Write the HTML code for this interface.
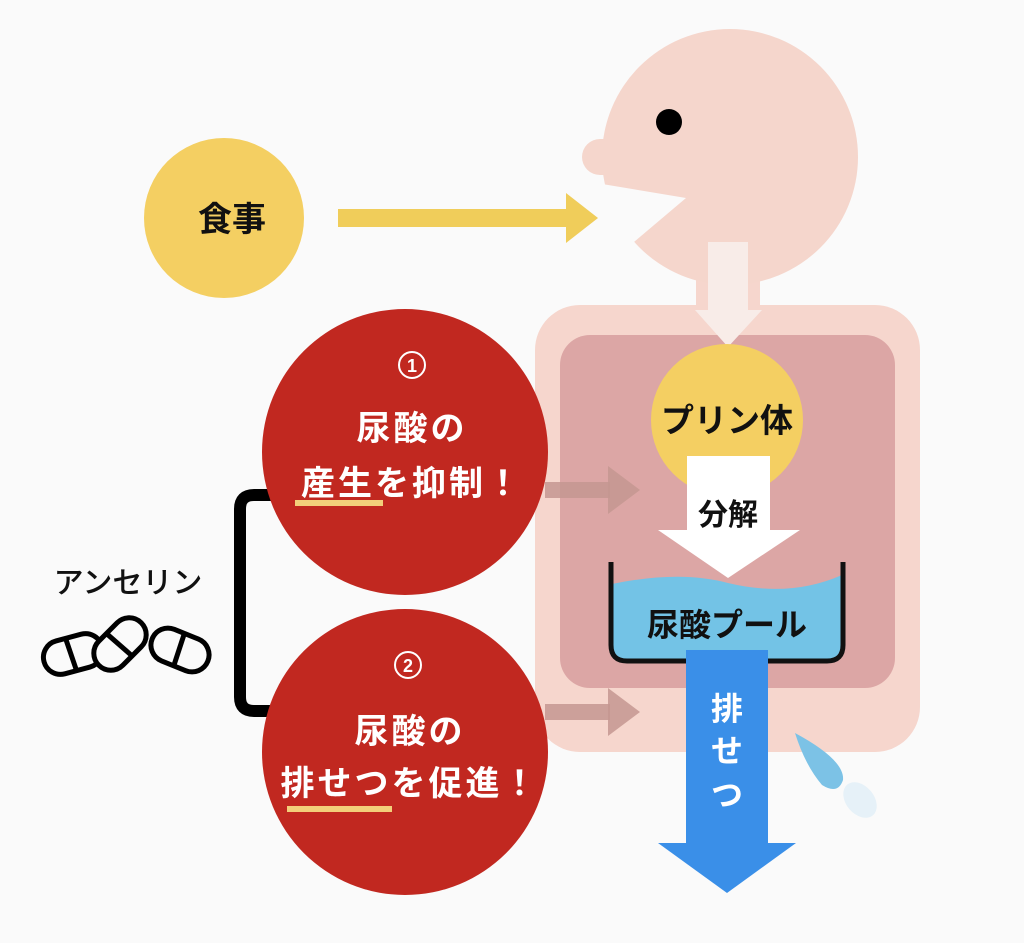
<!DOCTYPE html>
<html><head><meta charset="utf-8"><style>
html,body{margin:0;padding:0;background:#fafafa;}
svg{display:block;}
text{font-family:"Liberation Sans","Noto Sans CJK JP",sans-serif;font-weight:bold;}
</style></head><body>
<svg width="1024" height="943" viewBox="0 0 1024 943" xmlns="http://www.w3.org/2000/svg">
<rect width="1024" height="943" fill="#fafafa"/>
<rect x="535" y="305" width="385" height="447" rx="45" fill="#f6d6cd"/>
<rect x="696" y="262" width="64" height="50" fill="#f6d6cd"/>
<circle cx="730" cy="157" r="128" fill="#f5d6cc"/>
<circle cx="600" cy="157" r="18" fill="#f5d6cc"/>
<rect x="600" y="139" width="60" height="36" fill="#f5d6cc"/>
<polygon points="590,182 686,198 628,247 560,260 560,180" fill="#fafafa"/>
<circle cx="669" cy="122" r="13" fill="#000"/>
<rect x="560" y="335" width="335" height="353" rx="30" fill="#dca6a5"/>
<rect x="708" y="242" width="40" height="70" fill="#f8ece8"/>
<polygon points="695,310 762,310 728,347" fill="#f8ece8"/>
<circle cx="727" cy="420" r="76" fill="#f4cf62"/>
<text x="727" y="432" font-size="33" text-anchor="middle" fill="#111">プリン体</text>
<rect x="687" y="456" width="83" height="76" fill="#fff"/>
<polygon points="658,530 800,530 728,578" fill="#fff"/>
<text x="728" y="525" font-size="30" text-anchor="middle" fill="#111">分解</text>
<path d="M612,584 Q680,570 728,583 Q790,598 842,575 L842,645 Q842,660 827,660 L627,660 Q612,660 612,645 Z" fill="#73c3e6"/>
<path d="M611,562 L611,645 Q611,661 627,661 L827,661 Q843,661 843,645 L843,562" fill="none" stroke="#111" stroke-width="5"/>
<text x="727" y="636" font-size="32" text-anchor="middle" fill="#111">尿酸プール</text>
<rect x="686" y="650" width="82" height="195" fill="#3a8fe8"/>
<polygon points="658,843 796,843 727,893" fill="#3a8fe8"/>
<text x="727" y="720" font-size="32" text-anchor="middle" fill="#fff">排</text>
<text x="727" y="762" font-size="32" text-anchor="middle" fill="#fff">せ</text>
<text x="727" y="806" font-size="32" text-anchor="middle" fill="#fff">つ</text>
<path d="M795,733 Q845,760 843,780 Q838,795 822,785 Q805,765 795,733 Z" fill="#7cc2e6"/>
<ellipse cx="860" cy="800" rx="14" ry="20" transform="rotate(-40 860 800)" fill="#e6f1f8"/>
<circle cx="224" cy="218" r="80" fill="#f4cf62"/>
<text x="232" y="231" font-size="34" text-anchor="middle" fill="#111">食事</text>
<rect x="338" y="209" width="230" height="18" fill="#f0cd5a"/>
<polygon points="566,193 598,218 566,243" fill="#f0cd5a"/>
<rect x="545" y="482" width="65" height="16" fill="#c49790" opacity="0.85"/>
<polygon points="608,466 640,490 608,514" fill="#c49790" opacity="0.85"/>
<rect x="545" y="704" width="65" height="16" fill="#c49790" opacity="0.85"/>
<polygon points="608,688 640,712 608,736" fill="#c49790" opacity="0.85"/>
<path d="M272,495 L254,495 Q240,495 240,509 L240,697 Q240,711 254,711 L272,711" fill="none" stroke="#000" stroke-width="12"/>
<circle cx="405" cy="452" r="143" fill="#c12820"/>
<circle cx="405" cy="752" r="143" fill="#c12820"/>
<circle cx="412" cy="365" r="13" fill="none" stroke="#fff" stroke-width="2"/>
<text x="412" y="372" font-size="18" text-anchor="middle" fill="#fff">1</text>
<text x="412" y="440" font-size="34" text-anchor="middle" fill="#fff" letter-spacing="3">尿酸の</text>
<text x="412" y="495" font-size="34" text-anchor="middle" fill="#fff" letter-spacing="3">産生を抑制！</text>
<rect x="295" y="500" width="88" height="6" fill="#f3cf7a"/>
<circle cx="408" cy="665" r="13" fill="none" stroke="#fff" stroke-width="2"/>
<text x="408" y="672" font-size="18" text-anchor="middle" fill="#fff">2</text>
<text x="410" y="743" font-size="34" text-anchor="middle" fill="#fff" letter-spacing="3">尿酸の</text>
<text x="410" y="795" font-size="34" text-anchor="middle" fill="#fff" letter-spacing="3">排せつを促進！</text>
<rect x="287" y="806" width="105" height="6" fill="#f3cf7a"/>
<text x="128" y="593" font-size="30" text-anchor="middle" fill="#111" style="font-weight:500">アンセリン</text>
<g fill="#fafafa" stroke="#000" stroke-width="5">
<rect x="43" y="637" width="60" height="34" rx="17" transform="rotate(-15 73 654)"/>
<line x1="70" y1="639" x2="72" y2="669" transform="rotate(-15 73 654)"/>
<rect x="150" y="633" width="60" height="34" rx="17" transform="rotate(22 180 650)"/>
<line x1="178" y1="635" x2="180" y2="665" transform="rotate(22 180 650)"/>
<rect x="90" y="627" width="60" height="34" rx="17" transform="rotate(-45 120 644)"/>
<line x1="118" y1="629" x2="120" y2="659" transform="rotate(-45 120 644)"/>
</g>
</svg>
</body></html>
